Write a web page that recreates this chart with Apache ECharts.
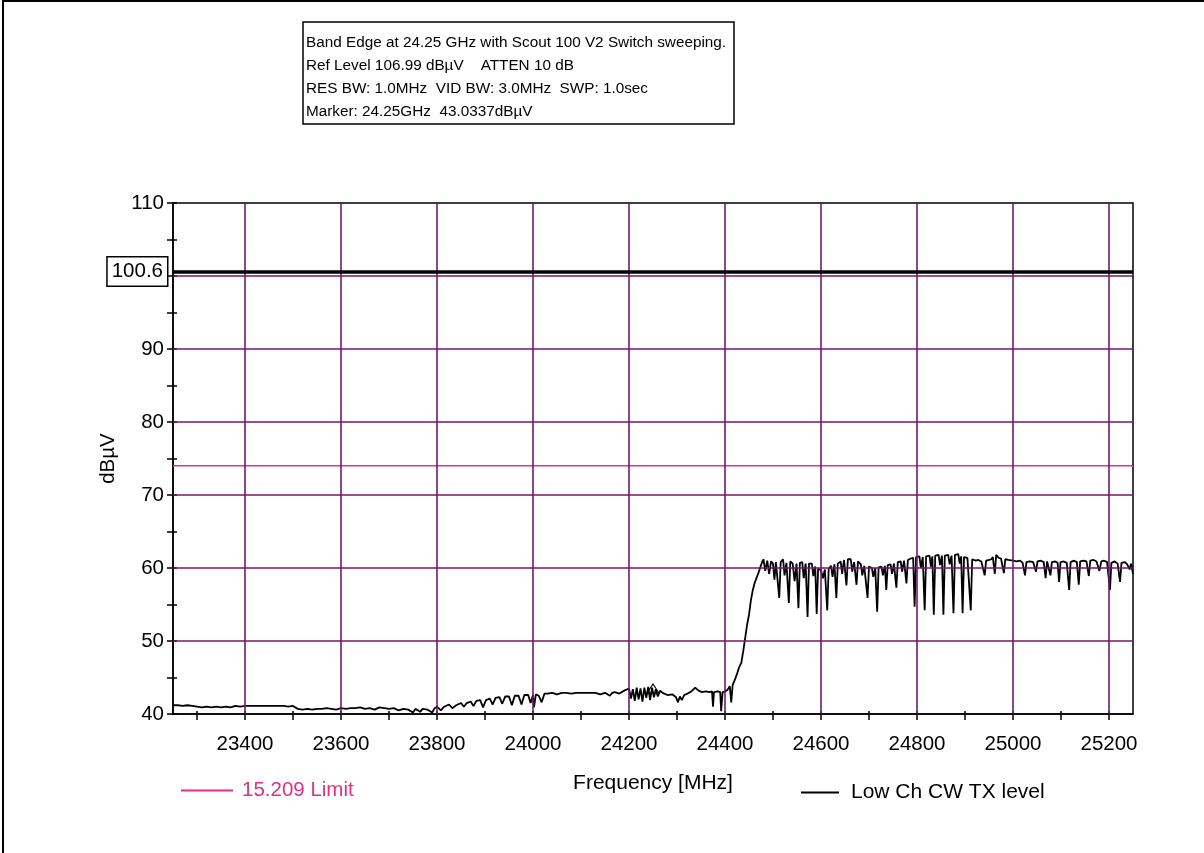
<!DOCTYPE html>
<html>
<head>
<meta charset="utf-8">
<script src="https://cdn.jsdelivr.net/npm/echarts@6/dist/echarts.min.js"></script>
<style>
html,body{margin:0;padding:0;background:#fff;}
#chart{width:1204px;height:853px;}
</style>
</head>
<body>
<div id="chart"></div>
<script>
// ---------- data ----------
const headerLines = [
  'Band Edge at 24.25 GHz with Scout 100 V2 Switch sweeping.',
  'Ref Level 106.99 dB\u00b5V    ATTEN 10 dB',
  'RES BW: 1.0MHz  VID BW: 3.0MHz  SWP: 1.0sec',
  'Marker: 24.25GHz  43.0337dB\u00b5V'
];
const xLabelValues = [23400, 23600, 23800, 24000, 24200, 24400, 24600, 24800, 25000, 25200];
const xTickValues = [23300, 23400, 23500, 23600, 23700, 23800, 23900, 24000, 24100, 24200, 24300, 24400, 24500, 24600, 24700, 24800, 24900, 25000, 25100, 25200];
const yLabelValues = [40, 50, 60, 70, 80, 90, 100, 110];
const yTickValues = [40, 45, 50, 55, 60, 65, 70, 75, 80, 85, 90, 95, 100, 105, 110];
const vGridValues = [23400, 23600, 23800, 24000, 24200, 24400, 24600, 24800, 25000, 25200];
const hGridValues = [50, 60, 70, 80, 90, 100];
const refLevel = 100.6;
const limitName = '15.209 Limit';
const limitValue = 74;
const traceName = 'Low Ch CW TX level';
const markerFreq = 24250;
const markerLevel = 43.5;

const traceFloor = [
  [23250,41.2],[23260,41.2],[23270,41.1],[23280,41.2],[23290,41.1],[23300,41.0],[23310,40.9],[23320,41.0],[23330,40.9],[23340,41.0],
  [23350,40.9],[23360,41.0],[23370,40.9],[23380,41.1],[23390,41.0],[23400,41.1],[23410,41.1],[23420,41.1],[23430,41.1],[23440,41.1],
  [23450,41.1],[23460,41.1],[23470,41.1],[23480,41.1],[23490,41.0],[23500,41.1],[23510,40.7],[23520,40.6],[23530,40.7],[23540,40.6],
  [23550,40.7],[23560,40.7],[23570,40.8],[23580,40.7],[23590,40.6],[23600,40.8],[23610,40.7],[23620,40.8],[23630,40.8],[23640,40.9],
  [23650,40.7],[23660,40.8],[23670,40.6],[23680,40.9],[23690,40.8],[23700,40.7],[23710,40.8],[23720,40.5],[23730,40.7],[23740,40.6],
  [23750,40.2],[23755,40.7],[23765,40.3],[23770,40.7],[23780,40.6],[23790,40.2],[23795,40.8],[23800,41.0],[23808,40.5],[23815,41.0],
  [23825,41.3],[23832,40.8],[23840,41.2],[23850,41.5],[23856,41.0],[23862,41.5],[23870,41.7],[23876,41.1],[23882,41.8],[23890,41.9],
  [23896,40.9],[23902,41.9],[23910,42.1],[23916,41.3],[23922,42.2],[23930,42.3],[23936,41.4],[23942,42.4],[23950,42.4],[23956,41.2],
  [23962,42.5],[23970,42.5],[23976,41.3],[23982,42.6],[23990,42.6],[23995,41.5],[24000,42.6],[24002,40.9],[24006,42.7],[24012,42.5],
  [24018,41.6],[24024,42.8],[24030,42.8],[24040,42.9],[24050,42.7],[24060,42.9],[24070,42.9],[24080,42.8],[24090,42.9],[24100,42.9],
  [24110,42.9],[24120,42.9],[24130,42.9],[24140,42.7],[24150,42.9],[24160,42.5],[24165,42.9],[24170,43.0],[24180,42.8],[24190,43.2],
  [24200,43.5],[24204,42.1],[24208,43.4],[24212,41.8],[24216,43.6],[24220,42.0],[24224,43.5],[24228,41.7],[24232,43.6],[24236,42.2],
  [24240,43.7],[24244,41.9],[24248,43.6],[24252,42.3],[24256,43.4],[24260,42.4],[24265,43.2],[24270,42.9],[24280,42.6],[24290,42.7],
  [24298,42.3],[24302,41.6],[24306,42.4],[24310,41.9],[24315,42.6],[24322,42.8],[24330,43.1],[24338,43.6],[24345,43.2],[24352,43.0],
  [24360,43.1],[24368,43.0],[24373,43.1],[24375,41.0],[24377,43.0],[24385,43.1],[24390,43.0],[24392,40.4],[24395,43.0],[24400,43.1],
  [24405,43.3],[24410,43.8],[24413,41.6],[24416,44.0]
];
const traceEdge = [
  [24420,44.6],[24425,45.5],[24430,46.5],[24434,47.0],[24438,48.6],[24442,50.4],[24446,52.2],[24450,53.6],[24454,55.6],[24458,57.0],
  [24462,58.0],[24466,58.7],[24470,59.4],[24474,60.2],[24478,60.9]
];
const traceInBand = [
  [24480,61.2],[24484,59.6],[24488,61.0],[24492,59.2],[24496,60.9],[24500,60.6],[24503,58.4],[24506,60.8],[24510,60.9],[24513,55.9],
  [24516,60.8],[24521,61.2],[24524,59.0],[24528,60.7],[24533,55.2],[24536,60.9],[24541,60.6],[24545,58.2],[24549,60.6],[24553,54.5],
  [24556,60.7],[24561,60.8],[24564,58.6],[24568,60.6],[24572,53.3],[24575,60.6],[24581,60.6],[24584,58.9],[24588,60.2],[24591,53.7],
  [24594,59.9],[24600,59.7],[24604,58.6],[24608,59.8],[24613,54.2],[24616,59.9],[24621,60.3],[24624,58.8],[24628,60.5],[24632,55.9],
  [24635,60.6],[24641,60.9],[24644,59.2],[24648,61.1],[24653,57.6],[24656,61.2],[24662,61.2],[24665,59.5],[24669,60.8],[24674,57.7],
  [24677,60.9],[24683,60.5],[24686,59.0],[24690,60.3],[24697,55.9],[24700,60.2],[24706,60.0],[24709,58.8],[24713,60.0],[24717,54.0],
  [24720,60.1],[24726,60.2],[24729,59.0],[24733,60.3],[24736,57.0],[24739,60.4],[24745,60.5],[24748,59.2],[24752,60.6],[24757,57.3],
  [24760,60.8],[24766,60.9],[24769,59.5],[24773,61.0],[24778,57.9],[24781,61.1],[24787,61.3],[24792,61.4],[24795,54.7],[24798,61.5],
  [24805,61.6],[24808,60.0],[24812,61.5],[24816,54.2],[24819,61.6],[24826,61.7],[24829,60.2],[24832,61.6],[24835,53.6],[24838,61.7],
  [24845,61.8],[24848,60.4],[24852,61.7],[24855,53.6],[24858,61.7],[24865,61.8],[24868,60.5],[24872,61.7],[24876,53.8],[24879,61.8],
  [24886,61.9],[24889,60.6],[24892,61.6],[24895,53.8],[24898,61.5],[24905,61.4],[24909,61.3],[24912,54.2],[24915,61.2],[24922,61.0],
  [24928,61.1],[24934,60.9],[24938,61.0],[24941,59.0],[24944,61.0],[24950,61.1],[24955,61.2],[24958,61.5],[24962,59.2],[24965,61.8],
  [24970,61.4],[24975,61.3],[24981,59.3],[24984,61.2],[24990,61.1],[25000,61.0],[25008,60.9],[25015,61.0],[25020,60.7],[25025,59.0],
  [25028,60.8],[25035,60.9],[25042,60.8],[25048,59.5],[25051,60.9],[25058,61.0],[25064,60.8],[25068,58.6],[25071,60.9],[25075,60.8],
  [25078,59.0],[25081,60.8],[25088,60.9],[25093,60.7],[25096,58.1],[25099,60.8],[25106,60.9],[25112,60.7],[25117,57.0],[25120,60.8],
  [25127,61.0],[25133,60.8],[25137,57.7],[25140,60.9],[25147,61.0],[25153,60.9],[25158,58.9],[25161,61.0],[25168,61.1],[25174,60.9],
  [25180,59.6],[25184,60.9],[25190,61.0],[25196,60.8],[25202,57.0],[25205,60.7],[25212,60.9],[25218,60.6],[25223,58.1],[25226,60.7],
  [25233,60.8],[25238,60.5],[25243,59.8],[25246,60.6],[25250,59.2]
];

// ---------- styles ----------
const FONT = "'Liberation Sans', Arial, sans-serif";
const PINK = '#E0307F';
const GRID_PURPLE = '#701870';
const X_MIN = 23250, X_MAX = 25250, Y_MIN = 40, Y_MAX = 110;

const chart = echarts.init(document.getElementById('chart'), null, {renderer: 'canvas'});

const gridLines = vGridValues.map(v => ({xAxis: v})).concat(hGridValues.map(v => ({yAxis: v})));
const traceData = traceFloor.concat(traceEdge, traceInBand);
const plain = v => String(v);

const option = {
  backgroundColor: '#fff',
  animation: false,
  graphic: [{
    type: 'rect', silent: true, z: 100,
    shape: {x: 3, y: 1, width: 1400, height: 1000},
    style: {fill: 'none', stroke: '#000', lineWidth: 2}
  }],
  title: {
    text: headerLines.join('\n'),
    left: 303, top: 22,
    borderColor: '#000', borderWidth: 1.5,
    padding: [9, 8, 1, 3],
    textStyle: {fontFamily: FONT, fontSize: 15.3, fontWeight: 'normal', color: '#000', lineHeight: 23}
  },
  legend: [
    {
      selectedMode: false, left: 176, top: 775, icon: 'rect', itemWidth: 52, itemHeight: 2,
      textStyle: {fontFamily: FONT, fontSize: 20.5, color: PINK, padding: [0, 0, 0, 4]},
      data: [limitName]
    },
    {
      selectedMode: false, left: 796, top: 777, icon: 'rect', itemWidth: 38, itemHeight: 2, itemGap: 0,
      textStyle: {fontFamily: FONT, fontSize: 21, color: '#000', padding: [0, 0, 0, 7]},
      data: [traceName]
    }
  ],
  grid: {
    left: 173, right: 71, top: 203, bottom: 139,
    show: true, borderColor: '#000', borderWidth: 1.5, backgroundColor: '#fff'
  },
  xAxis: [
    {
      type: 'value', min: X_MIN, max: X_MAX, position: 'bottom',
      name: 'Frequency [MHz]', nameLocation: 'middle', nameGap: 59,
      nameTextStyle: {fontFamily: FONT, fontSize: 21, color: '#000'},
      axisLine: {show: true, lineStyle: {color: '#000', width: 1.5}},
      axisTick: {show: true, customValues: xTickValues, length: 6, lineStyle: {color: '#000', width: 1.5}},
      axisLabel: {customValues: xLabelValues, formatter: plain, fontFamily: FONT, fontSize: 20.5, color: '#000', margin: 20},
      splitLine: {show: false}
    },
    {
      type: 'value', min: X_MIN, max: X_MAX, position: 'bottom',
      axisLine: {show: false},
      axisTick: {show: true, customValues: xTickValues, inside: true, length: 3, lineStyle: {color: '#000', width: 1.5}},
      axisLabel: {show: false},
      splitLine: {show: false}
    }
  ],
  yAxis: [
    {
      type: 'value', min: Y_MIN, max: Y_MAX, interval: 10, position: 'left',
      name: 'dB\u00b5V', nameLocation: 'middle', nameGap: 52, nameRotate: 90,
      nameTextStyle: {fontFamily: FONT, fontSize: 20.5, color: '#000'},
      axisLine: {show: true, lineStyle: {color: '#000', width: 1.5}},
      axisTick: {show: true, customValues: yTickValues, length: 6, lineStyle: {color: '#000', width: 1.5}},
      axisLabel: {customValues: yLabelValues, formatter: plain, fontFamily: FONT, fontSize: 20.5, color: '#000', margin: 9},
      splitLine: {show: false}
    },
    {
      type: 'value', min: Y_MIN, max: Y_MAX, interval: 10, position: 'left',
      axisLine: {show: false},
      axisTick: {show: true, customValues: yTickValues, inside: true, length: 4, lineStyle: {color: '#000', width: 1.5}},
      axisLabel: {show: false},
      splitLine: {show: false}
    }
  ],
  series: [
    {
      name: 'gridlines', type: 'line', data: [], z: 1, silent: true,
      markLine: {
        silent: true, symbol: ['none', 'none'], animation: false,
        label: {show: false},
        lineStyle: {color: GRID_PURPLE, width: 1.6, type: 'solid'},
        emphasis: {disabled: true},
        data: gridLines
      }
    },
    {
      name: limitName, type: 'line', z: 2,
      data: [[X_MIN, limitValue], [X_MAX, limitValue]],
      showSymbol: false, symbol: 'none',
      itemStyle: {color: PINK},
      lineStyle: {color: PINK, width: 1.5}
    },
    {
      name: 'reference', type: 'line', data: [], z: 4, silent: true,
      markLine: {
        silent: true, symbol: ['none', 'none'], animation: false,
        lineStyle: {color: '#000', width: 3.5, type: 'solid'},
        emphasis: {disabled: true},
        label: {
          show: true, position: 'start', distance: 6,
          formatter: String(refLevel),
          fontFamily: FONT, fontSize: 20.5, color: '#000',
          borderColor: '#000', borderWidth: 1.5, padding: [4, 4, 3, 4], backgroundColor: '#fff'
        },
        data: [{yAxis: refLevel}]
      }
    },
    {
      name: traceName, type: 'line', z: 3,
      data: traceData,
      showSymbol: false, symbol: 'none',
      itemStyle: {color: '#000'},
      lineStyle: {color: '#000', width: 1.8},
      markPoint: {
        silent: true, animation: false,
        label: {show: false},
        data: [{
          coord: [markerFreq, markerLevel], symbol: 'triangle', symbolSize: [12, 9],
          itemStyle: {color: 'rgba(0,0,0,0)', borderColor: '#000', borderWidth: 1}
        }]
      }
    }
  ]
};
chart.setOption(option);
</script>
</body>
</html>
